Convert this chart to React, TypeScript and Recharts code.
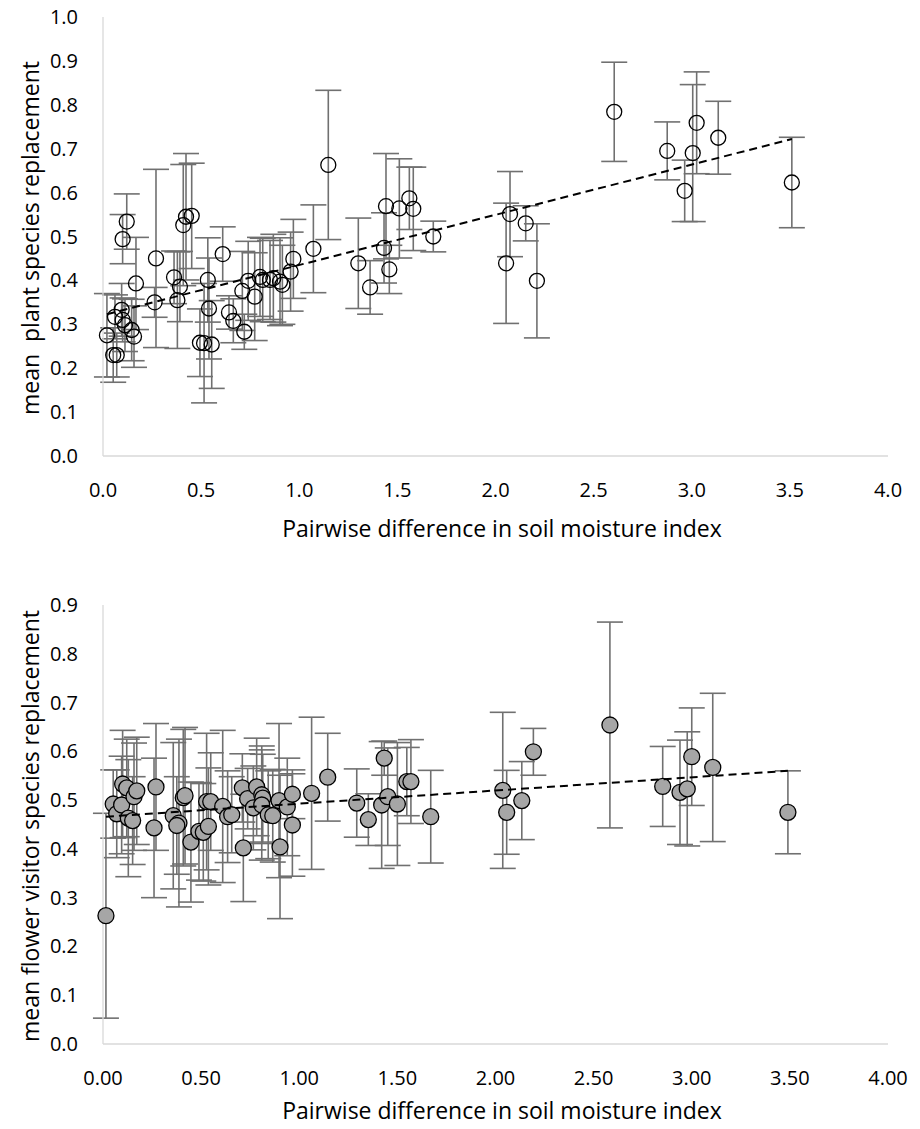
import { ScatterChart, Scatter, XAxis, YAxis, ErrorBar, Label } from "recharts"

const FONT = "'Open Sans', sans-serif"

// tick values
const xTicks = [0, 0.5, 1, 1.5, 2, 2.5, 3, 3.5, 4]
const plantYTicks = [0, 0.1, 0.2, 0.3, 0.4, 0.5, 0.6, 0.7, 0.8, 0.9, 1.0]
const visitorYTicks = [0, 0.1, 0.2, 0.3, 0.4, 0.5, 0.6, 0.7, 0.8, 0.9]

// plant species replacement (top panel)
const plantX = [
  0.02, 0.061, 0.095, 0.1, 0.052, 0.07, 0.121, 0.1, 0.112, 0.146, 0.158, 0.168,
  0.27, 0.263, 0.362, 0.392, 0.379, 0.409, 0.423, 0.452, 0.534, 0.54, 0.494, 0.515,
  0.554, 0.61, 0.642, 0.664, 0.72, 0.71, 0.74, 0.773, 0.8, 0.814, 0.851, 0.868,
  0.902, 0.914, 0.956, 0.97, 1.072, 1.148, 1.301, 1.361, 1.442, 1.432, 1.459, 1.51,
  1.561, 1.581, 1.683, 2.074, 2.054, 2.154, 2.211, 2.605, 2.875, 2.964, 3.005, 3.025,
  3.135, 3.51,
]
const plantY = [
  0.275, 0.317, 0.333, 0.31, 0.23, 0.23, 0.534, 0.494, 0.298, 0.287, 0.272, 0.393,
  0.45, 0.35, 0.407, 0.386, 0.355, 0.526, 0.545, 0.547, 0.401, 0.336, 0.258, 0.257,
  0.254, 0.46, 0.327, 0.308, 0.283, 0.376, 0.399, 0.363, 0.408, 0.401, 0.401, 0.405,
  0.397, 0.39, 0.42, 0.449, 0.472, 0.663, 0.439, 0.384, 0.569, 0.474, 0.425, 0.564,
  0.587, 0.563, 0.5, 0.551, 0.439, 0.53, 0.399, 0.784, 0.695, 0.604, 0.69, 0.759,
  0.725, 0.623,
]
const plantErr = [
  0.095, 0.05, 0.06, 0.05, 0.062, 0.05, 0.063, 0.056, 0.06, 0.07, 0.07, 0.105,
  0.203, 0.034, 0.06, 0.08, 0.11, 0.138, 0.144, 0.12, 0.096, 0.115, 0.077, 0.136,
  0.1, 0.062, 0.038, 0.05, 0.04, 0.09, 0.09, 0.1, 0.09, 0.095, 0.09, 0.1,
  0.1, 0.09, 0.09, 0.09, 0.1, 0.17, 0.103, 0.061, 0.12, 0.08, 0.055, 0.113,
  0.071, 0.095, 0.035, 0.097, 0.137, 0.04, 0.13, 0.113, 0.066, 0.07, 0.156, 0.116,
  0.083, 0.103,
]
const plantTrendX = [0.02, 3.51]
const plantTrendY = [0.323, 0.722]

// flower visitor species replacement (bottom panel)
const visitorX = [
  0.015, 0.052, 0.07, 0.095, 0.1, 0.121, 0.158, 0.172, 0.129, 0.151, 0.27, 0.26,
  0.358, 0.387, 0.376, 0.409, 0.418, 0.448, 0.489, 0.511, 0.537, 0.528, 0.549, 0.61,
  0.635, 0.656, 0.71, 0.715, 0.737, 0.783, 0.809, 0.814, 0.766, 0.809, 0.842, 0.865,
  0.897, 0.902, 0.939, 0.965, 0.965, 1.063, 1.145, 1.293, 1.352, 1.433, 1.42, 1.451,
  1.5, 1.548, 1.569, 1.67, 2.037, 2.057, 2.134, 2.193, 2.583, 2.852, 2.94, 2.977,
  3.0, 3.107, 3.49,
]
const visitorY = [
  0.263, 0.492, 0.472, 0.49, 0.533, 0.525, 0.507, 0.519, 0.463, 0.458, 0.527, 0.443,
  0.468, 0.453, 0.448, 0.505, 0.509, 0.414, 0.436, 0.434, 0.446, 0.497, 0.497, 0.487,
  0.466, 0.47, 0.525, 0.402, 0.503, 0.527, 0.511, 0.504, 0.484, 0.49, 0.47, 0.468,
  0.499, 0.404, 0.486, 0.512, 0.449, 0.514, 0.547, 0.494, 0.46, 0.586, 0.49, 0.507,
  0.492, 0.538, 0.538, 0.466, 0.52, 0.475, 0.499, 0.599, 0.654, 0.528, 0.516, 0.523,
  0.589, 0.567, 0.475,
]
const visitorErr = [
  0.21, 0.07, 0.09, 0.1, 0.11, 0.1, 0.11, 0.11, 0.12, 0.09, 0.13, 0.143,
  0.15, 0.172, 0.1, 0.14, 0.14, 0.123, 0.1, 0.1, 0.12, 0.14, 0.1, 0.156,
  0.094, 0.078, 0.07, 0.11, 0.062, 0.1, 0.1, 0.09, 0.086, 0.113, 0.09, 0.095,
  0.158, 0.147, 0.1, 0.05, 0.105, 0.156, 0.09, 0.07, 0.053, 0.035, 0.13, 0.1,
  0.126, 0.07, 0.086, 0.095, 0.16, 0.086, 0.08, 0.048, 0.211, 0.082, 0.107, 0.117,
  0.1, 0.152, 0.085,
]
const visitorTrendX = [0.015, 3.49]
const visitorTrendY = [0.466, 0.56]

const plantData = plantX.map((x, i) => ({ x, y: plantY[i], err: plantErr[i] }))
const visitorData = visitorX.map((x, i) => ({ x, y: visitorY[i], err: visitorErr[i] }))
const plantTrend = plantTrendX.map((x, i) => ({ x, y: plantTrendY[i] }))
const visitorTrend = visitorTrendX.map((x, i) => ({ x, y: visitorTrendY[i] }))

const XTick = ({ x, y, payload, digits }: any) => (
  <text x={x} y={y + 34} dy="0.35em" textAnchor="middle" fontSize={20} fontFamily={FONT} fill="#000">
    {Number(payload.value).toFixed(digits)}
  </text>
)

const YTick = ({ x, y, payload }: any) => (
  <text x={x - 25} y={y} dy="0.35em" textAnchor="end" fontSize={20} fontFamily={FONT} fill="#000">
    {Number(payload.value).toFixed(1)}
  </text>
)

const OpenCircle = ({ cx, cy }: any) => (
  <circle cx={cx} cy={cy} r={7.5} fill="none" stroke="#000" strokeWidth={1.3} />
)
const GreyCircle = ({ cx, cy }: any) => (
  <circle cx={cx} cy={cy} r={8} fill="#a6a6a6" stroke="#000" strokeWidth={1.3} />
)
const NoDot = () => <g />

const axisLine = { stroke: "#d9d9d9", strokeWidth: 1.3 }
const trendStyle = { stroke: "#000", strokeWidth: 2, strokeDasharray: "8 5" }

function Panel({ data, trend, yTicks, yMax, digits, yTitle, shape, height, top, xTitleY, yTitleY }: any) {
  return (
    <ScatterChart
      width={904}
      height={height}
      margin={{ top, right: 24, bottom: height - top - 439 - 60, left: 0 }}
    >
      <XAxis
        type="number"
        dataKey="x"
        domain={[0, 4]}
        ticks={xTicks}
        interval={0}
        axisLine={axisLine}
        tickLine={false}
        tickSize={0}
        tickMargin={0}
        height={60}
        tick={(p: any) => <XTick {...p} digits={digits} />}
      >
        <Label
          content={() => (
            <text x={494} y={xTitleY} textAnchor="middle" fontSize={23} fontFamily={FONT} fill="#000">
              Pairwise difference in soil moisture index
            </text>
          )}
        />
      </XAxis>
      <YAxis
        type="number"
        dataKey="y"
        domain={[0, yMax]}
        ticks={yTicks}
        interval={0}
        axisLine={axisLine}
        tickLine={false}
        tickSize={0}
        tickMargin={0}
        width={95}
        tick={(p: any) => <YTick {...p} />}
      >
        <Label
          content={() => (
            <text
              transform={`translate(31, ${yTitleY}) rotate(-90)`}
              textAnchor="middle"
              fontSize={23}
              fontFamily={FONT}
              fill="#000"
              style={{ whiteSpace: "pre" }}
            >
              {yTitle}
            </text>
          )}
        />
      </YAxis>
      <Scatter data={data} shape={shape} isAnimationActive={false}>
        <ErrorBar dataKey="err" direction="y" width={13} stroke="#707070" strokeWidth={1.6} />
      </Scatter>
      <Scatter data={trend} line={trendStyle} shape={NoDot} isAnimationActive={false} />
    </ScatterChart>
  )
}

export default function App() {
  return (
    <div style={{ width: 904, marginTop: -8, fontFamily: FONT }}>
      <Panel
        data={plantData}
        trend={plantTrend}
        yTicks={plantYTicks}
        yMax={1}
        digits={1}
        yTitle={"mean  plant species replacement"}
        shape={OpenCircle}
        height={583}
        top={17}
        xTitleY={537}
        yTitleY={238}
      />
      <Panel
        data={visitorData}
        trend={visitorTrend}
        yTicks={visitorYTicks}
        yMax={0.9}
        digits={2}
        yTitle={"mean flower visitor species replacement"}
        shape={GreyCircle}
        height={546}
        top={22}
        xTitleY={536}
        yTitleY={243}
      />
    </div>
  )
}
